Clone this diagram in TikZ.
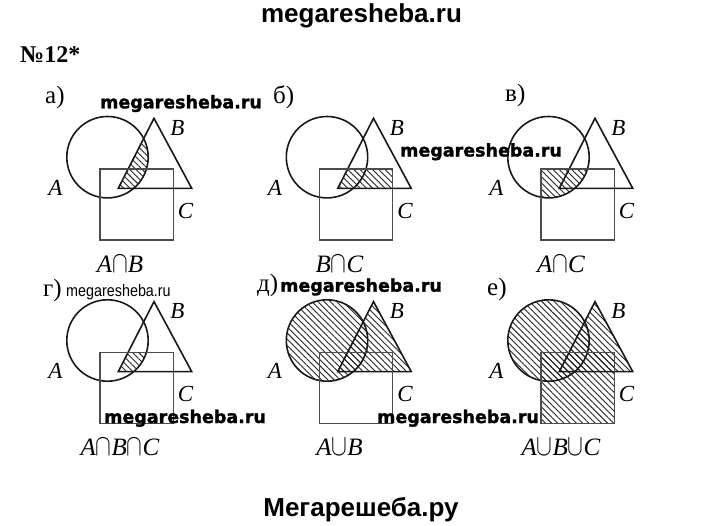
\documentclass[tikz,border=0pt]{standalone}
\usepackage{fontspec}
\usepackage{graphicx}
\setmainfont{Liberation Serif}
\newfontfamily\wmfont[FakeBold=1.6]{DejaVu Sans Bold}
\newfontfamily\arialfont{Liberation Sans}
\newfontfamily\arialnarrow[FakeStretch=0.87]{Liberation Sans}
\usetikzlibrary{patterns.meta}
\newcommand\capsym{\scalebox{0.95}[1.22]{$\cap$}}
\newcommand\cupsym{\scalebox{0.95}[1.22]{$\cup$}}
\def\pA{(107.5,157.2) circle[radius=40.7]}
\def\pB{(154,118.3) -- (118.3,188.3) -- (191.7,188.3) -- cycle}
\def\pC{(100,169) rectangle (173.3,240)}
\newcommand\vennpanel[5]{%
  \begin{scope}[shift={(#1,#2)}]
    #3
    \draw[outline] \pA;
    \draw[outline] \pB;
    \draw[sqline] \pC;
    \node[lbl,anchor=base] (#4A) at (55.5,195.5) {\itshape A};
    \node[lbl,anchor=base] (#4B) at (177.5,135.5) {\itshape B};
    \node[lbl,anchor=base] (#4C) at (185.5,218.5) {\itshape C};
    \node[captext,anchor=base] (#4cap) at (120,272) {#5};
  \end{scope}}
\begin{document}
\begin{tikzpicture}[x=1pt,y=-1pt,
  outline/.style={line width=1.6pt,black!90},
  sqline/.style={line width=1.2pt,black!70},
  hatch/.style={pattern={Lines[angle=-45,distance=4.4pt,line width=0.9pt]},pattern color=black!85},
  lbl/.style={inner sep=0pt,font=\fontsize{23}{26}\selectfont},
  captext/.style={inner sep=0pt,font=\fontsize{25}{28}\selectfont},
  plbl/.style={inner sep=0pt,font=\fontsize{25}{28}\selectfont,anchor=base west},
  wm/.style={inner sep=0pt,font=\wmfont\fontsize{17.5}{20}\selectfont,anchor=base west}]
\fill[white] (0,0) rectangle (720,525);
\useasboundingbox (0,0) rectangle (720,525);
% panels
\vennpanel{0}{0}{\begin{scope}\clip \pA; \fill[hatch] \pB; \end{scope}}{a}{\itshape A\capsym B}
\vennpanel{219.5}{0}{\begin{scope}\clip \pB; \fill[hatch] \pC; \end{scope}}{b}{\itshape B\capsym C}
\vennpanel{441}{0}{\begin{scope}\clip \pA; \fill[hatch] \pC; \end{scope}}{c}{\itshape A\capsym C}
\vennpanel{0}{183.3}{\begin{scope}\clip \pA; \clip \pB; \fill[hatch] \pC; \end{scope}}{d}{\itshape A\capsym B\capsym C}
\vennpanel{219.5}{183.3}{\fill[hatch] \pA; \fill[hatch] \pB;}{e}{\itshape A\cupsym B}
\vennpanel{441}{183.3}{\fill[hatch] \pA; \fill[hatch] \pB; \fill[hatch] \pC;}{f}{\itshape A\cupsym B\cupsym C}
% panel letters
\node[plbl] (la) at (45,103.3) {а)};
\node[plbl] (lb) at (273,103.3) {б)};
\node[plbl] (lc) at (505,101.7) {в)};
\node[plbl] (ld) at (43,296.7) {г)};
\node[plbl] (le) at (257,291.7) {д)};
\node[plbl] (lf) at (487,295) {е)};
% titles
\node[inner sep=0pt,anchor=base,font=\arialfont\bfseries\fontsize{26}{30}\selectfont] (top) at (361.5,22.7) {megaresheba.ru};
\node[inner sep=0pt,anchor=base west,font=\bfseries\fontsize{24}{28}\selectfont] (num) at (20,62.3) {№12*};
\node[inner sep=0pt,anchor=base,font=\arialfont\bfseries\fontsize{26}{30}\selectfont] (bottom) at (361,516.5) {Мегарешеба.ру};
% watermarks
\node[wm] (w1) at (100,108.3) {megaresheba.ru};
\node[wm] (w2) at (400,156.5) {megaresheba.ru};
\node[inner sep=0pt,anchor=base west,font=\arialnarrow\fontsize{16.5}{19}\selectfont] (w3) at (66,296) {megaresheba.ru};
\node[wm] (w4) at (280,291.7) {megaresheba.ru};
\node[wm] (w5) at (104,423) {megaresheba.ru};
\node[wm] (w6) at (377,423) {megaresheba.ru};
\end{tikzpicture}
\end{document}
